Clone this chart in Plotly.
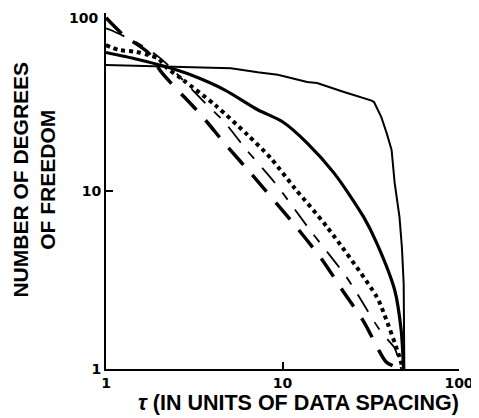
import plotly.graph_objects as go

# --- data (log-log axes) ---
thin_x = [1, 2.2, 3.79, 5.1, 7.24, 9.4, 13.8, 15.7, 22.3, 27, 30, 32, 33, 34.5, 36.3, 39, 41.5, 43.2, 46, 47.5, 48.6, 49]
thin_y = [51, 50, 49.7, 49, 46.5, 45, 41, 40.4, 36, 34, 32.8, 32.2, 31.6, 29, 26, 21, 17, 11.1, 7.15, 4.8, 3.0, 1]

thick_x = [1, 1.5, 2.17, 3.04, 4.72, 7.24, 10, 13.8, 19.6, 28.8, 34.2, 43.2, 47, 48.5]
thick_y = [60, 55, 50, 44.8, 36.9, 28.6, 24.5, 18.6, 12.6, 7.15, 5.1, 2.78, 1.66, 1]

dot_x = [1, 1.18, 1.47, 1.74, 1.98, 2.17, 2.74, 4.15, 6.36, 8.57, 11.7, 17.9, 34.2, 37.5, 46, 48]
dot_y = [66, 62, 60.6, 58, 55.5, 50, 42, 30.4, 20.6, 15.3, 10.4, 6.27, 2.54, 2.06, 1.17, 1]

tdash_x = [1, 1.07, 1.5, 1.93, 2.2, 3.65, 4.72, 6.2, 9.0, 14.3, 23.2, 35.5, 40.5, 43.2, 47]
tdash_y = [82, 80, 68, 58, 52, 31.2, 24.2, 17.2, 11.2, 6.04, 3.25, 1.66, 1.42, 1.31, 1]

ldash_x = [1, 1.26, 1.74, 2.06, 3.46, 4.79, 6.6, 12.1, 16.8, 21.8, 28.9, 35.5, 38.9, 47]
ldash_y = [94, 75, 59.7, 46.5, 26.7, 18.1, 12.6, 6.2, 4.1, 2.78, 1.84, 1.25, 1.09, 1]

tick_vals = [1, 10, 100]
x_tick_text = ["<b>1</b>", "<b>10</b>", "<b>100</b>"]
y_tick_text = ["<b>1</b>", "<b>10</b>", ""]   # top label drawn below as text so it stays inside the page
y_top_label = "<b>100</b>"

x_title = "<b><i>τ</i> (IN UNITS OF DATA SPACING)</b>"
y_title = "<b>NUMBER OF DEGREES<br>OF FREEDOM</b>"

fig = go.Figure()
fig.add_trace(go.Scatter(x=thin_x, y=thin_y, mode="lines",
                         line=dict(color="black", width=2)))
fig.add_trace(go.Scatter(x=thick_x, y=thick_y, mode="lines",
                         line=dict(color="black", width=3.2, shape="spline", smoothing=0.8)))
fig.add_trace(go.Scatter(x=dot_x, y=dot_y, mode="lines",
                         line=dict(color="black", width=4, dash="4px,4px",
                                   shape="spline", smoothing=0.8)))
fig.add_trace(go.Scatter(x=tdash_x, y=tdash_y, mode="lines",
                         line=dict(color="black", width=1.8, dash="20px,12px,9px,12px",
                                   shape="spline", smoothing=0.8)))
fig.add_trace(go.Scatter(x=ldash_x, y=ldash_y, mode="lines",
                         line=dict(color="black", width=3.5, dash="22px,14px",
                                   shape="spline", smoothing=0.8)))

axis_common = dict(
    type="log", range=[0, 2], showgrid=False, zeroline=False,
    showline=True, linecolor="black", linewidth=2,
    ticks="inside", ticklen=7, tickwidth=2, tickcolor="black",
    tickvals=tick_vals,
    tickfont=dict(family="DejaVu Sans", size=14, color="black"),
)
fig.update_xaxes(ticktext=x_tick_text, **axis_common)
fig.update_yaxes(ticktext=y_tick_text, **axis_common)

tick_font = dict(family="DejaVu Sans", size=14, color="black")

# the page body keeps its default 8px margin, so the figure is sized to fit the window
fig.update_layout(
    width=471, height=410,
    margin=dict(l=98, r=17, t=5, b=49),
    paper_bgcolor="white", plot_bgcolor="white",
    showlegend=False,
    annotations=[
        dict(text=y_top_label, xref="paper", yref="paper", x=0, y=1,
             xanchor="right", yanchor="top", xshift=-6, yshift=5, showarrow=False,
             font=tick_font),
        dict(text=x_title, xref="paper", yref="paper", x=0.545, y=-0.095,
             xanchor="center", yanchor="middle", showarrow=False,
             font=dict(family="Liberation Sans", size=21.5, color="black")),
        dict(text=y_title, xref="paper", yref="paper", x=-0.205, y=0.531,
             xanchor="center", yanchor="middle", showarrow=False, textangle=-90,
             font=dict(family="Liberation Sans", size=21, color="black")),
    ],
)

fig.write_html("out.html", config={"displayModeBar": False})
